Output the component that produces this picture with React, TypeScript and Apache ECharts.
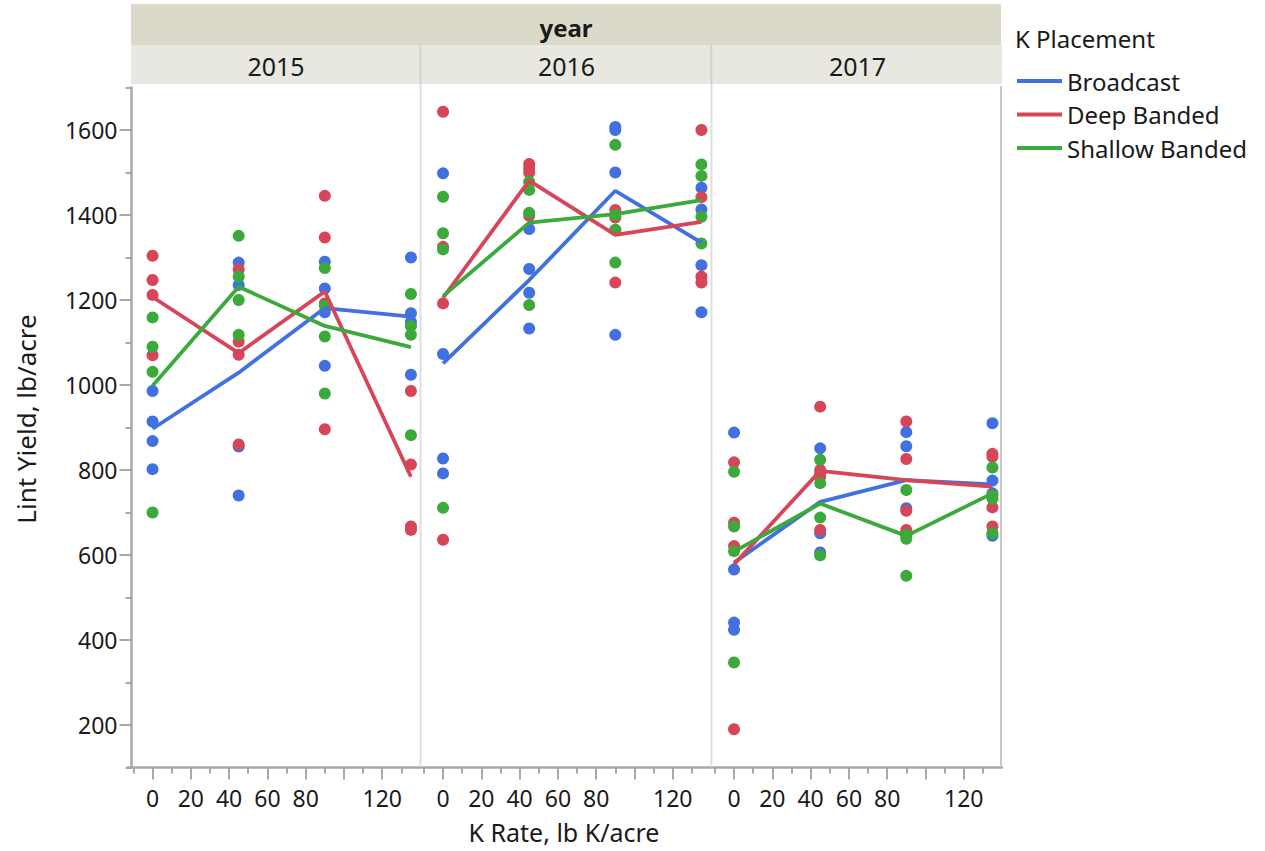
import React, { useEffect, useRef } from 'react';
import * as echarts from 'echarts';

const kRates = [0, 45, 90, 135];
const years = ['2015', '2016', '2017'];
const placements = ['Broadcast', 'Deep Banded', 'Shallow Banded'];
const colors = ['#4170E0', '#D64558', '#3BAA3A'];

// Individual plot yields (lb/acre), per K rate (0, 45, 90, 135)
const broadcast2015 = [[986, 914, 868, 802], [1288, 1235, 855, 740], [1290, 1227, 1171, 1045], [1300, 1169, 1149, 1024]];
const deep2015 = [[1304, 1247, 1212, 1070], [1272, 1102, 1071, 860], [1445, 1347, 1192, 896], [986, 813, 667, 659]];
const shallow2015 = [[1159, 1090, 1031, 700], [1351, 1255, 1200, 1118], [1275, 1187, 1114, 980], [1214, 1139, 1118, 882]];

const broadcast2016 = [[1498, 1073, 827, 792], [1367, 1273, 1217, 1133], [1607, 1600, 1500, 1118], [1464, 1413, 1282, 1171]];
const deep2016 = [[1643, 1325, 1192, 636], [1520, 1510, 1500, 1398], [1412, 1394, 1365, 1241], [1600, 1442, 1255, 1241]];
const shallow2016 = [[1443, 1357, 1319, 711], [1478, 1459, 1405, 1188], [1565, 1400, 1365, 1288], [1519, 1492, 1396, 1333]];

const broadcast2017 = [[888, 566, 441, 424], [851, 792, 651, 606], [889, 856, 710, 649], [910, 775, 745, 645]];
const deep2017 = [[818, 676, 621, 190], [949, 800, 784, 659], [914, 826, 704, 659], [838, 831, 712, 667]];
const shallow2017 = [[796, 667, 609, 347], [824, 769, 688, 599], [753, 647, 638, 551], [806, 740, 733, 651]];

// Mean lines, per K rate
const broadcastMean2015 = [897, 1029, 1181, 1161];
const deepMean2015 = [1207, 1075, 1220, 784];
const shallowMean2015 = [998, 1231, 1139, 1089];
const broadcastMean2016 = [1051, 1247, 1457, 1335];
const deepMean2016 = [1205, 1481, 1353, 1384];
const shallowMean2016 = [1209, 1382, 1402, 1435];
const broadcastMean2017 = [582, 725, 776, 766];
const deepMean2017 = [578, 798, 776, 761];
const shallowMean2017 = [608, 721, 645, 745];

const yMajorTicks = [200, 400, 600, 800, 1000, 1200, 1400, 1600];
const yMinorTicks = [100, 300, 500, 700, 900, 1100, 1300, 1500, 1700];
const xMajorTicks = [0, 20, 40, 60, 80, 100, 120];
const xMinorTicks = [-10, 10, 30, 50, 70, 90, 110, 130];
const xTickLabels = [0, 20, 40, 60, 80, 120];

const pointsByYear = [
  [broadcast2015, deep2015, shallow2015],
  [broadcast2016, deep2016, shallow2016],
  [broadcast2017, deep2017, shallow2017],
];
const meansByYear = [
  [broadcastMean2015, deepMean2015, shallowMean2015],
  [broadcastMean2016, deepMean2016, shallowMean2016],
  [broadcastMean2017, deepMean2017, shallowMean2017],
];

const FONT = 'Noto Sans';
const AXIS_COLOR = '#a8a8a8';
const TEXT = '#1a1a1a';

export default function App() {
  const ref = useRef<HTMLDivElement>(null);
  useEffect(() => {
    if (!ref.current) return;
    const chart = echarts.init(ref.current, null, { renderer: 'svg' });

    const gridLefts = [131.5, 422, 713];
    const gridW = 289;
    const gridTop = 87.5;
    const gridH = 680;
    const X_MIN = -11;
    const X_MAX = 140;
    const Y_MIN = 100;
    const Y_MAX = 1700;

    const grids = gridLefts.map((l) => ({ left: l, top: gridTop, width: gridW, height: gridH }));

    const xAxes: any[] = [];
    gridLefts.forEach((_, i) => {
      xAxes.push({
        type: 'value', gridIndex: i, min: X_MIN, max: X_MAX, position: 'bottom',
        axisLine: { show: true, onZero: false, lineStyle: { color: AXIS_COLOR, width: 2.5 } },
        axisTick: { show: true, customValues: xMajorTicks, length: 12, lineStyle: { color: AXIS_COLOR, width: 2 } },
        axisLabel: { show: true, customValues: xTickLabels, fontSize: 23, color: TEXT, fontFamily: FONT, margin: 19, formatter: (v: number) => String(v) },
        splitLine: { show: false },
      });
    });
    gridLefts.forEach((_, i) => {
      xAxes.push({
        type: 'value', gridIndex: i, min: X_MIN, max: X_MAX, position: 'bottom',
        axisLine: { show: false, onZero: false },
        axisTick: { show: true, customValues: xMinorTicks, length: 6, lineStyle: { color: AXIS_COLOR, width: 2 } },
        axisLabel: { show: false },
        splitLine: { show: false },
      });
    });

    const yAxes: any[] = [
      {
        type: 'value', gridIndex: 0, min: Y_MIN, max: Y_MAX, position: 'left',
        axisLine: { show: true, onZero: false, lineStyle: { color: AXIS_COLOR, width: 2.5 } },
        axisTick: { show: true, customValues: yMajorTicks, length: 12, lineStyle: { color: AXIS_COLOR, width: 2 } },
        axisLabel: { show: true, customValues: yMajorTicks, fontSize: 23, color: TEXT, fontFamily: FONT, margin: 14, formatter: (v: number) => String(v) },
        splitLine: { show: false },
      },
      { type: 'value', gridIndex: 1, min: Y_MIN, max: Y_MAX, show: false },
      { type: 'value', gridIndex: 2, min: Y_MIN, max: Y_MAX, show: false },
      {
        type: 'value', gridIndex: 0, min: Y_MIN, max: Y_MAX, position: 'left',
        axisLine: { show: false, onZero: false },
        axisTick: { show: true, customValues: yMinorTicks, length: 6, lineStyle: { color: AXIS_COLOR, width: 2 } },
        axisLabel: { show: false },
        splitLine: { show: false },
      },
    ];

    const series: any[] = [];
    years.forEach((yr, i) => {
      placements.forEach((p, j) => {
        const vals = pointsByYear[i][j];
        series.push({
          name: p + ' ' + yr + ' plots',
          type: 'scatter',
          xAxisIndex: i, yAxisIndex: i,
          symbolSize: 12,
          itemStyle: { color: colors[j], opacity: 1 },
          data: kRates.flatMap((k, ki) => vals[ki].map((v) => [k, v])),
          z: 2 + j * 0.1,
          silent: true,
        });
      });
    });
    years.forEach((yr, i) => {
      placements.forEach((p, j) => {
        const m = meansByYear[i][j];
        series.push({
          name: p,
          type: 'line',
          xAxisIndex: i, yAxisIndex: i,
          symbol: 'none',
          lineStyle: { color: colors[j], width: 3.8 },
          itemStyle: { color: colors[j] },
          data: kRates.map((k, ki) => [k, m[ki]]),
          z: 4,
          silent: true,
        });
      });
    });

    const panelCenters = gridLefts.map((l) => l + gridW / 2);
    const graphics: any[] = [
      { type: 'rect', shape: { x: 131, y: 4, width: 870, height: 41 }, style: { fill: '#DBD9CA' }, z: 0 },
      ...gridLefts.map((l) => ({
        type: 'rect', shape: { x: l - 0.5, y: 45, width: gridW + 0.5, height: 39 }, style: { fill: '#E8E8E0' }, z: 0,
      })),
      { type: 'line', shape: { x1: 420.5, y1: 45, x2: 420.5, y2: 84 }, style: { stroke: '#CFCFCF', lineWidth: 2 }, z: 1 },
      { type: 'line', shape: { x1: 711.5, y1: 45, x2: 711.5, y2: 84 }, style: { stroke: '#CFCFCF', lineWidth: 2 }, z: 1 },
      { type: 'line', shape: { x1: 420.5, y1: 84, x2: 420.5, y2: 767 }, style: { stroke: '#DEDEDE', lineWidth: 2 }, z: 1 },
      { type: 'line', shape: { x1: 711.5, y1: 84, x2: 711.5, y2: 767 }, style: { stroke: '#DEDEDE', lineWidth: 2 }, z: 1 },
      { type: 'line', shape: { x1: 1001, y1: 86, x2: 1001, y2: 767 }, style: { stroke: '#C8C8C8', lineWidth: 2 }, z: 1 },
      { type: 'line', shape: { x1: 127, y1: 767.5, x2: 132, y2: 767.5 }, style: { stroke: AXIS_COLOR, lineWidth: 2.5 }, z: 1 },
      { type: 'text', x: 566, y: 27, style: { text: 'year', fontSize: 24, fontWeight: 'bold', fill: TEXT, fontFamily: FONT, align: 'center', verticalAlign: 'middle' }, z: 2 },
      ...years.map((yr, i) => ({
        type: 'text', x: panelCenters[i], y: 66, style: { text: yr, fontSize: 25, fill: TEXT, fontFamily: FONT, align: 'center', verticalAlign: 'middle' }, z: 2,
      })),
      { type: 'text', x: 1015, y: 38, style: { text: 'K Placement', fontSize: 24, fill: TEXT, fontFamily: FONT, align: 'left', verticalAlign: 'middle' }, z: 2 },
      { type: 'text', x: 26, y: 419, rotation: Math.PI / 2, style: { text: 'Lint Yield, lb/acre', fontSize: 26, fill: TEXT, fontFamily: FONT, align: 'center', verticalAlign: 'middle' }, z: 2 },
      { type: 'text', x: 564, y: 832, style: { text: 'K Rate, lb K/acre', fontSize: 25, fill: TEXT, fontFamily: FONT, align: 'center', verticalAlign: 'middle' }, z: 2 },
    ];

    chart.setOption({
      animation: false,
      backgroundColor: '#ffffff',
      grid: grids,
      xAxis: xAxes,
      yAxis: yAxes,
      legend: {
        data: placements,
        orient: 'vertical',
        left: 1017,
        top: 69,
        padding: 0,
        icon: 'rect',
        itemWidth: 45,
        itemHeight: 4,
        itemGap: 9.5,
        selectedMode: false,
        textStyle: { fontSize: 24, color: TEXT, fontFamily: FONT },
      },
      graphic: graphics,
      series,
    });

    return () => chart.dispose();
  }, []);

  return (
    <div
      ref={ref}
      style={{ position: 'fixed', left: 0, top: 0, width: 1265, height: 851, background: '#fff' }}
    />
  );
}
